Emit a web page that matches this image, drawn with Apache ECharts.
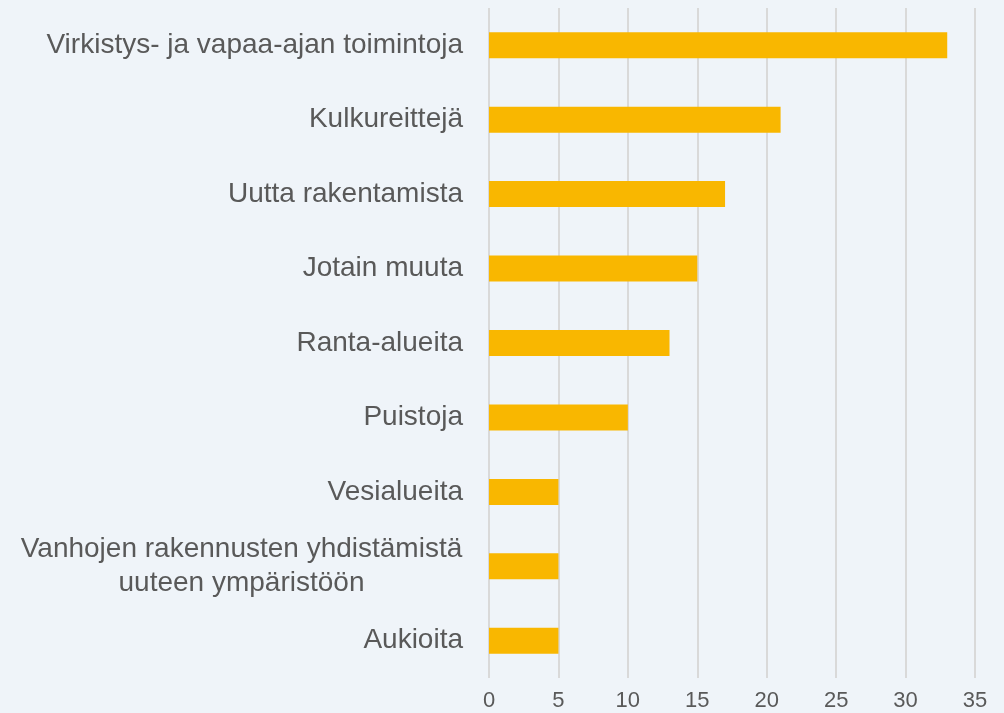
<!DOCTYPE html>
<html>
<head>
<meta charset="utf-8">
<script src="https://cdn.jsdelivr.net/npm/echarts@6/dist/echarts.min.js"></script>
<style>
  html, body { margin: 0; padding: 0; background: #eff4f9; }
  #main { width: 1004px; height: 713px; }
</style>
</head>
<body>
<div id="main"></div>
<script>
const categories = [
    'Virkistys- ja vapaa-ajan toimintoja',
    'Kulkureittejä',
    'Uutta rakentamista',
    'Jotain muuta',
    'Ranta-alueita',
    'Puistoja',
    'Vesialueita',
    'Vanhojen rakennusten yhdistämistä\nuuteen ympäristöön',
    'Aukioita'
];
const values = [33, 21, 17, 15, 13, 10, 5, 5, 5];

const chart = echarts.init(document.getElementById('main'));

// the two-line label is centred line by line, like in the original
const yData = categories.map(function (c) {
    if (c.indexOf('\n') < 0) return c;
    return { value: c, textStyle: { align: 'center', padding: [6, 443, 0, 0] } };
});

const option = {
    backgroundColor: '#eff4f9',
    animation: false,
    grid: { left: 489, right: 29, top: 8, bottom: 35, containLabel: false },
    xAxis: {
        type: 'value',
        min: 0,
        max: 35,
        interval: 5,
        axisLine: { show: false },
        axisTick: { show: false },
        splitLine: { show: true, lineStyle: { color: '#d9d9d9', width: 2 } },
        axisLabel: {
            color: '#595959',
            fontFamily: 'Liberation Sans, Arial, sans-serif',
            fontSize: 22,
            margin: 12
        }
    },
    yAxis: {
        type: 'category',
        data: yData,
        inverse: true,
        axisLine: { show: false },
        axisTick: { show: false },
        axisLabel: {
            color: '#595959',
            fontFamily: 'Liberation Sans, Arial, sans-serif',
            fontSize: 28,
            lineHeight: 34,
            margin: 26,
            align: 'right'
        }
    },
    series: [{
        type: 'bar',
        data: values,
        barWidth: 26,
        itemStyle: { color: '#f9b700' }
    }]
};

chart.setOption(option);
</script>
</body>
</html>
